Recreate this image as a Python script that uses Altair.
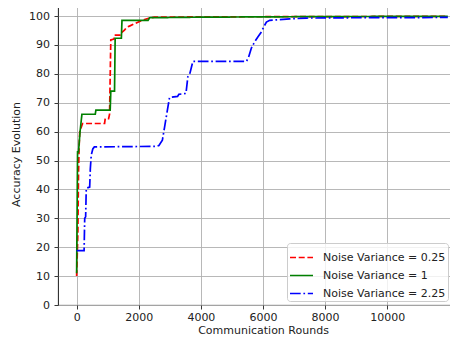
import altair as alt
import pandas as pd

series_names = ["Noise Variance = 0.25", "Noise Variance = 1", "Noise Variance = 2.25"]
series_colors = ["#ff0000", "#008000", "#0000ff"]

red_x = [0, 40, 60, 80, 100, 190, 900, 920, 1030, 1060, 1100, 1200, 1220, 1420, 1440,
         1540, 1600, 1700, 1920, 2100, 2350, 2500, 4000, 8000, 11950]
red_y = [10, 25, 45, 55, 60, 62.8, 62.8, 64.5, 64.5, 66, 91.7, 92, 93.4, 93.4, 94.2,
         95.1, 96, 96.5, 97.6, 98.5, 99.3, 99.6, 99.7, 99.8, 99.9]

green_x = [0, 30, 60, 110, 170, 600, 620, 1080, 1100, 1220, 1240, 1440, 1460, 2300, 2350,
           4000, 8000, 11950]
green_y = [11, 53, 53, 60, 66, 66, 67.4, 67.4, 74, 74, 92.3, 92.3, 98.5, 98.5, 99.4,
           99.6, 99.8, 99.9]

blue_x = [0, 240, 260, 290, 310, 420, 440, 470, 520, 570, 2550, 2650, 2760, 2830, 2990,
          3250, 3290, 3520, 3581, 3650, 3742, 5465, 5530, 5626, 5732, 5839, 5948, 6023,
          6110, 6216, 6861, 7400, 9000, 11950]
blue_y = [18.8, 18.8, 30, 30.5, 40.4, 40.8, 47, 51.8, 54, 54.7, 54.9, 55.2, 57, 61.5, 71.8,
          72.2, 72.9, 73.2, 79, 80.3, 84.3, 84.3, 85.5, 88.9, 91.1, 92.8, 94.5, 96.2,
          97.9, 98.5, 99.0, 99.3, 99.4, 99.5]

x_ticks = [0, 2000, 4000, 6000, 8000, 10000]
y_ticks = [0, 10, 20, 30, 40, 50, 60, 70, 80, 90, 100]

rows = []
for name, xs, ys in zip(series_names, [red_x, green_x, blue_x], [red_y, green_y, blue_y]):
    for i, (xv, yv) in enumerate(zip(xs, ys)):
        rows.append({"series": name, "rounds": xv, "acc": yv, "idx": i})
df = pd.DataFrame(rows)

FONT = "DejaVu Sans"

legend_common = dict(title=None, orient="none", legendX=229, legendY=240)

chart = alt.Chart(df).mark_line(strokeWidth=1.7, clip=True).encode(
    x=alt.X("rounds:Q",
            scale=alt.Scale(domain=[-600, 12600], nice=False, zero=False),
            axis=alt.Axis(title="Communication Rounds", values=x_ticks, format="d",
                          labelPadding=2, titlePadding=2)),
    y=alt.Y("acc:Q",
            scale=alt.Scale(domain=[0, 104.5], nice=False),
            axis=alt.Axis(title="Accuracy Evolution", values=y_ticks,
                          labelPadding=4.5, titlePadding=7)),
    color=alt.Color("series:N",
                    scale=alt.Scale(domain=series_names, range=series_colors),
                    legend=alt.Legend(symbolType="stroke", symbolSize=529,
                                      symbolStrokeWidth=1.7, labelFontSize=11,
                                      labelFont=FONT, labelColor="#222222",
                                      labelOffset=9, rowPadding=-1, padding=2,
                                      fillColor="rgba(255,255,255,0.8)",
                                      strokeColor="#cccccc", cornerRadius=3,
                                      labelLimit=400, **legend_common)),
    strokeDash=alt.StrokeDash("series:N",
                              scale=alt.Scale(domain=series_names,
                                              range=[[6, 2.7], [1, 0], [10.7, 2.7, 1.7, 2.7]]),
                              legend=alt.Legend(**legend_common)),
    order=alt.Order("idx:Q"),
    detail="series:N",
).properties(
    width=410,
    height=302,
    autosize=alt.AutoSizeParams(type="none"),
    padding={"left": 50, "top": -5, "right": -18, "bottom": 32},
).configure_view(
    stroke="#000000", strokeWidth=0.9
).configure_axis(
    grid=True, gridColor="#b0b0b0", gridWidth=0.9,
    domain=False,
    tickColor="#222222", tickSize=4, tickWidth=0.9,
    labelFont=FONT, labelFontSize=11, labelColor="#222222",
    titleFont=FONT, titleFontSize=11, titleColor="#222222", titleFontWeight="normal",
)

chart.save("out.html", embed_options={"renderer": "svg", "actions": False})
